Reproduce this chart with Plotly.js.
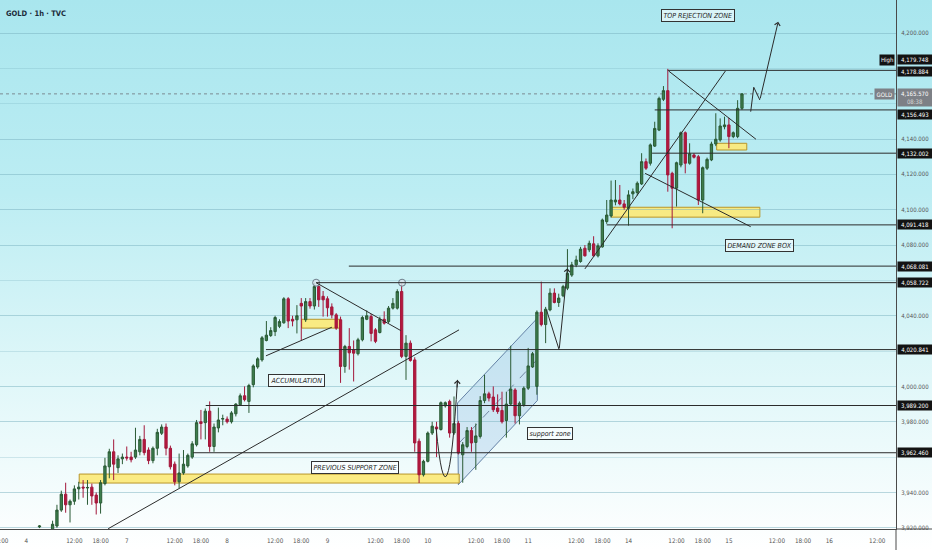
<!DOCTYPE html>
<html><head><meta charset="utf-8">
<script src="https://cdn.plot.ly/plotly-3.0.1.min.js"></script>
<style>
html,body{margin:0;padding:0;}
body{width:932px;height:550px;overflow:hidden;background:linear-gradient(to bottom,#a9e6ee 0%,#bcedf3 35%,#dcf6f8 65%,#ffffff 100%);}
#chart{width:932px;height:550px;}
</style></head><body><div id="chart"></div>
<script>
// ---- candle data (1h bars, index = bar number) ----
const opens = [3920.5,3914,3916,3919,3921,3930,3939,3933,3935,3942,3943,3942.5,3943,3938.5,3934,3945,3954.5,3963,3954,3959,3960,3960,3960,3963,3970,3964,3958,3965,3973.5,3977,3965,3956,3946,3951,3955,3960,3967,3980,3979.5,3986,3966,3976.5,3981.5,3981.5,3980,3984.5,3989.6,3994.7,3991.5,4001,4011,4015,4026,4028.8,4031,4034,4036,4049.6,4038,4037.7,4047,4037.7,4048,4045.5,4056.5,4051,4049.6,4045,4040.5,4037.7,4011.3,4022.6,4020.7,4018.5,4026.4,4038,4039.6,4032,4030.5,4038,4036.7,4044.3,4044.3,4053.7,4017,4024.5,4015,3969,3950,3957.6,3973.6,3977,3975.6,3989,3991.5,3973.6,3979,3961.3,3966,3975,3968.3,3971.7,3992,3995.8,3994,3987.8,3986.4,3980.7,3990,3998,3983.4,3989.6,3999,4011,4000,4042,4035,4043.3,4052.8,4047.5,4051.3,4055.6,4063,4068.8,4070.7,4078.2,4077.3,4080.7,4073.9,4079,4093.3,4096.5,4104.4,4105.5,4103.3,4100.8,4109,4109.7,4114.6,4127.2,4126.3,4136,4145.1,4162.5,4167.4,4120.6,4112.2,4125.3,4143.6,4126.3,4131,4130,4105.5,4123.5,4128.2,4137.2,4139.5,4147,4148,4141.4,4141.4,4157.4];
const highs = [3921.5,3917,3918.5,3924,3933,3941,3945.5,3936,3944,3946,3947,3947,3945,3940,3947,3959.6,3964.7,3970,3961,3962,3966,3963,3976.6,3972,3978,3965.5,3966,3976,3978.5,3979,3966.5,3957.5,3962,3964,3962,3969,3981,3986.7,3987.5,3991.5,3979,3988,3984,3983,3986,3990.5,3996,4000,4001.5,4012.5,4016.5,4028.5,4037,4033.5,4040,4038,4050.5,4050.5,4040,4046,4050,4050,4050,4058.7,4058,4054,4051,4047,4041.5,4039.5,4023.5,4033,4026,4027.5,4040,4043,4041,4033,4039.5,4042.5,4045.5,4050,4055,4058.7,4029,4026,4016.5,3970.5,3958.5,3974.5,3980,3980,3991.5,3991.5,3992.5,3994.3,3980.5,3968.5,3977,3977,3979,3994.5,4006.6,3997,4000,3995.5,3997,3997,4023,3999,3991.5,4000,4021.8,4019.5,4043,4059.3,4045,4055.5,4055.5,4052.5,4057.5,4077.7,4070.5,4074,4079,4080,4082.5,4085,4081,4095,4105.5,4116.5,4116.8,4114,4105.5,4111,4112,4116,4132,4129,4137.5,4149.8,4164,4170,4179.748,4121.5,4127.2,4144.3,4144.3,4137.6,4132,4131,4124.5,4129.5,4138.5,4154.6,4151.7,4152.7,4152,4144.3,4162,4166];
const lows = [3919.8,3912,3914,3918,3920,3929,3928.5,3923,3933,3936,3937,3933,3933,3927.5,3928,3944,3948,3947,3951,3956,3958,3957,3959,3961,3961,3956,3956.5,3961,3972.5,3961,3953,3944,3942.5,3950,3954,3959,3966,3970,3970,3963,3963,3974,3978,3979,3979,3983,3989,3991.5,3985,3999.5,4010,4014,4025.5,4028,4028.5,4033,4035.5,4033,4034,4030,4026,4036.5,4044,4043.5,4045,4039.5,4039.5,4038.5,4032,4002,4007.7,4009.5,4002.8,4017.5,4025.5,4037.5,4025.5,4024.5,4030,4035,4035.8,4043.5,4043.5,4016,4003.7,4014,3963,3945.3,3949,3957,3972.5,3960,3975,3988,3971,3972.5,3961.5,3945.5,3965,3963,3952.8,3970.5,3990.5,3991.5,3985.5,3984.5,3979,3971,3989,3979,3978.5,3988.5,3998,4010.5,3995.3,4034,4024.5,4042.5,4047,4045,4050.5,4054.5,4062,4067.5,4070,4073.5,4076,4073.5,4073,4078.5,4092,4095.5,4102.5,4102.5,4100,4091,4106,4108,4114,4122.5,4125,4135.5,4144.5,4161.5,4110.2,4089.5,4101.8,4124,4120.6,4125.5,4129,4102.7,4098,4122.5,4127.5,4136,4138.5,4145.5,4134.8,4140.5,4140.5,4156.5];
const closes = [3921,3916,3918,3922,3930,3939,3933,3935,3942,3943,3942.5,3942.8,3938,3934,3945.5,3955,3963,3956,3959,3960,3959.5,3958.5,3964,3970,3962.5,3958,3965,3974,3977,3965,3954.5,3946,3951,3956,3961,3967.5,3979.5,3979,3986,3966,3977,3981,3981.8,3980,3985,3990,3994.7,3992.5,4000.5,4011.6,4015.6,4027.5,4029,4031.6,4039,4036.7,4049.6,4037,4037,4040,4045.5,4048,4045.5,4056.5,4049,4049,4044.5,4040.5,4033,4011.3,4022.6,4019,4018.8,4026.4,4039,4040,4030,4025.5,4038,4035.8,4044.3,4047,4053.7,4017,4024.5,4014.7,3968,3950,3957.6,3973.6,3977.5,3976,3990.8,3990.8,3973.6,3979,3962.3,3967,3975,3968,3972,3992,3995.8,3993.4,3986.8,3985.8,3980,3990,3998.5,3983.4,3990.5,3999,4011.6,4018.5,4042,4035,4043.7,4052.8,4047.5,4050,4056.5,4064,4068.8,4071.6,4077.7,4073.9,4081,4073.9,4079.6,4094.2,4097,4105.5,4105.5,4103.3,4101.4,4108.4,4110.2,4115,4127.2,4123.5,4136.7,4146,4163,4167.4,4119.7,4112.2,4126.6,4143.6,4126.3,4131.6,4129.7,4105.5,4123.8,4128.5,4137.2,4139.9,4147.4,4148,4141.4,4143.6,4157.4,4165.57];

// ---- axis ticks ----
const xTickVals = [-9,-3,8,14,20,31,37,43,54,60,66,77,83,89,100,106,112,123,129,135,146,152,158,169,175,181,192];
const xTickText = ['18:00','4','12:00','18:00','7','12:00','18:00','8','12:00','18:00','9','12:00','18:00','10','12:00','18:00','11','12:00','18:00','14','12:00','18:00','15','12:00','18:00','16','12:00'];
const yTickVals = [3920,3940,3980,4000,4040,4080,4100,4120,4140,4200];

// ---- price levels ----
const levelPrices = [4178.884,4156.493,4132.002,4091.418,4068.081,4058.722,4020.841,3989.2,3962.46];
const levelStart = [144,141,140.4,130,70.9,63.4,51.9,38.1,35.2];
const levelLabelShift = [-1,-5,0,0,0,0,0,0,0];
const highPrice = 4179.748;
const lastPrice = 4165.57;
const lastTime = '08:38';
const symbolName = 'GOLD';

// ---- drawings ----
const zoneX0 = [9.1,60.1,131.1,155.2];
const zoneX1 = [96.2,69.05,165.1,162.1];
const zoneY0 = [3945.3,4033,4095.8,4133.8];
const zoneY1 = [3950.4,4038,4101.4,4137.6];

const trendX0 = [15.74,51.9,63.4,144.2,125.0,138.8];
const trendY0 = [3919.46,4017.3,4058.7,4178.5,4066.5,4120.6];
const trendX1 = [96.15,67.0,82.8,164.2,157.2,163.0];
const trendY1 = [4032.0,4033.5,4031.6,4139.9,4178.5,4090.4];

const channelX = [96,114.1,114.1,95.8];
const channelY = [3944.4,3992.0,4038.6,3990.6];
const channelMid = [96,3967.5,114.1,4015.3];

const pivotX = [63.4,83.1];
const pivotY = [4058.7,4058.7];

const arcPts = [90.9,3976.4,93.5,3910,95.8,4003.7];
const vX = [116.2,119.1,121.0];
const vY = [4043.3,4020.7,4066.9];
const zigX = [163.0,163.7,165.1,169.3];
const zigY = [4155.5,4169.3,4162.1,4206.4];

const noteText = ['TOP REJECTION ZONE','DEMAND ZONE BOX','ACCUMULATION','PREVIOUS SUPPORT ZONE','support zone'];
const noteX = [151.0,165.1,58.8,72.3,117.0];
const noteY = [4210.2,4079.8,4003.2,3954.3,3973.5];

const xRange = [-9.05,196.3];
const yRange = [3919.3,4218.7];

// ---- build ----
const FONT = "'DejaVu Sans Condensed','Liberation Sans',Arial,sans-serif";
const fmt = v => v.toLocaleString('en-US',{minimumFractionDigits:3,maximumFractionDigits:3});
const idx = opens.map((_,i)=>i);

const candle = {
  type:'candlestick', x:idx, open:opens, high:highs, low:lows, close:closes,
  increasing:{line:{color:'#2a5a35',width:1},fillcolor:'#3d7e4c'},
  decreasing:{line:{color:'#a3173b',width:1},fillcolor:'#b5183e'},
  whiskerwidth:0, hoverinfo:'skip', showlegend:false
};
const pivots = {
  type:'scatter', mode:'markers', x:pivotX, y:pivotY, hoverinfo:'skip', showlegend:false,
  marker:{size:7,color:'rgba(215,228,236,0.85)',line:{color:'#6d7d8a',width:1}}
};

const shapes = [];
const LINE = '#2b2b2b';
shapes.push({type:'line',xref:'paper',x0:0,x1:1,yref:'y',y0:lastPrice,y1:lastPrice,line:{color:'#7c8b92',width:1,dash:'dot'},layer:'below'});
shapes.push({type:'path',xref:'x',yref:'y',
  path:'M'+channelX.map((x,i)=>x+','+channelY[i]).join(' L')+' Z',
  fillcolor:'rgba(120,165,220,0.22)',line:{color:'rgba(80,110,150,0.85)',width:1},layer:'below'});
shapes.push({type:'line',x0:channelMid[0],y0:channelMid[1],x1:channelMid[2],y1:channelMid[3],line:{color:'rgba(90,110,140,0.8)',width:1,dash:'dash'},layer:'below'});
zoneX0.forEach((x0,i)=>shapes.push({type:'rect',x0:x0,x1:zoneX1[i],y0:zoneY0[i],y1:zoneY1[i],
  fillcolor:'rgba(252,233,120,0.92)',line:{color:'#b8962a',width:1},layer:'below'}));
levelPrices.forEach((p,i)=>shapes.push({type:'line',x0:levelStart[i],x1:xRange[1],y0:p,y1:p,line:{color:LINE,width:1}}));
trendX0.forEach((x0,i)=>shapes.push({type:'line',x0:x0,y0:trendY0[i],x1:trendX1[i],y1:trendY1[i],line:{color:LINE,width:1}}));
shapes.push({type:'path',path:`M${arcPts[0]},${arcPts[1]} Q${arcPts[2]},${arcPts[3]} ${arcPts[4]},${arcPts[5]}`,line:{color:LINE,width:1}});
shapes.push({type:'line',x0:vX[0],y0:vY[0],x1:vX[1],y1:vY[1],line:{color:LINE,width:1}});
for(let i=0;i<zigX.length-2;i++) shapes.push({type:'line',x0:zigX[i],y0:zigY[i],x1:zigX[i+1],y1:zigY[i+1],line:{color:LINE,width:1}});
shapes.push({type:'line',xref:'paper',yref:'paper',x0:1,x1:1,y0:-0.05,y1:0,line:{color:'#4a4a4a',width:1}});
shapes.push({type:'line',xref:'paper',yref:'paper',x0:1,x1:1.05,y0:0,y1:0,line:{color:'#4a4a4a',width:1}});

const ann = [];
ann.push({xref:'paper',yref:'paper',x:0,y:1,xanchor:'left',yanchor:'middle',xshift:4,yshift:-13,showarrow:false,
  text:'<b>GOLD · 1h · TVC</b>',font:{family:FONT,size:7.5,color:'#1c2b3a'}});
noteText.forEach((t,i)=>ann.push({x:noteX[i],y:noteY[i],text:'<i>'+t+'</i>',showarrow:false,
  font:{family:FONT,size:7,color:'#1e1e1e'},bgcolor:'rgba(255,255,255,0.55)',bordercolor:'#333',borderwidth:1,borderpad:1.5}));
ann.push({x:arcPts[4],y:arcPts[5],ax:-0.5,ay:9,showarrow:true,arrowhead:4,arrowsize:1.1,arrowwidth:1,arrowcolor:LINE,text:''});
ann.push({x:vX[2],y:vY[2],axref:'x',ayref:'y',ax:vX[1],ay:vY[1],showarrow:true,arrowhead:4,arrowsize:1.1,arrowwidth:1,arrowcolor:LINE,text:''});
const zl = zigX.length-1;
ann.push({x:zigX[zl],y:zigY[zl],axref:'x',ayref:'y',ax:zigX[zl-1],ay:zigY[zl-1],showarrow:true,arrowhead:4,arrowsize:1.1,arrowwidth:1,arrowcolor:LINE,text:''});
const lab = (y,txt,bg,shift)=>({xref:'paper',x:1,y:y,xanchor:'left',yanchor:'middle',xshift:1,yshift:shift,
  showarrow:false,text:txt,width:32,align:'center',bgcolor:bg,borderpad:1,font:{family:FONT,size:6,color:'#ffffff'}});
levelPrices.forEach((p,i)=>ann.push(lab(p,fmt(p),'#131313',levelLabelShift[i])));
ann.push(lab(highPrice,fmt(highPrice),'#131313',9));
ann.push({xref:'paper',x:1,y:highPrice,xanchor:'right',yanchor:'middle',xshift:-1,yshift:9,showarrow:false,text:'High',
  bgcolor:'#131313',borderpad:1,font:{family:FONT,size:6,color:'#fff'}});
ann.push(lab(lastPrice,fmt(lastPrice)+'<br><span style="color:#d8d8d8">'+lastTime+'</span>','#7d8086',-4));
ann.push({xref:'paper',x:1,y:lastPrice,xanchor:'right',yanchor:'middle',xshift:-1,yshift:0,showarrow:false,text:symbolName,
  bgcolor:'#7d8086',borderpad:1.5,font:{family:FONT,size:6,color:'#fff'}});

const layout = {
  width:932,height:550,margin:{l:0,r:36,t:0,b:21},
  paper_bgcolor:'rgba(0,0,0,0)',plot_bgcolor:'rgba(0,0,0,0)',
  showlegend:false,boxgap:0.25,dragmode:false,
  xaxis:{range:xRange,tickmode:'array',tickvals:xTickVals,ticktext:xTickText,showgrid:false,zeroline:false,
    showline:true,linecolor:'#4a4a4a',linewidth:1,ticks:'',ticklabelstandoff:5,ticklabeloverflow:'allow',
    tickfont:{family:FONT,size:6.3,color:'#555'},rangeslider:{visible:false},fixedrange:true},
  yaxis:{range:yRange,side:'right',tickmode:'array',tickvals:yTickVals,tickformat:',.3f',
    showgrid:true,gridcolor:'rgba(120,175,190,0.28)',gridwidth:1,zeroline:false,
    minor:{tickmode:'linear',tick0:3920,dtick:20,showgrid:true,gridcolor:'rgba(120,175,190,0.28)',ticks:''},
    showline:true,linecolor:'#4a4a4a',linewidth:1,ticks:'',ticklabelstandoff:3,
    tickfont:{family:FONT,size:6,color:'#555'},fixedrange:true},
  shapes:shapes,annotations:ann
};
Plotly.newPlot('chart',[candle,pivots],layout,{staticPlot:true,displayModeBar:false});
</script></body></html>
